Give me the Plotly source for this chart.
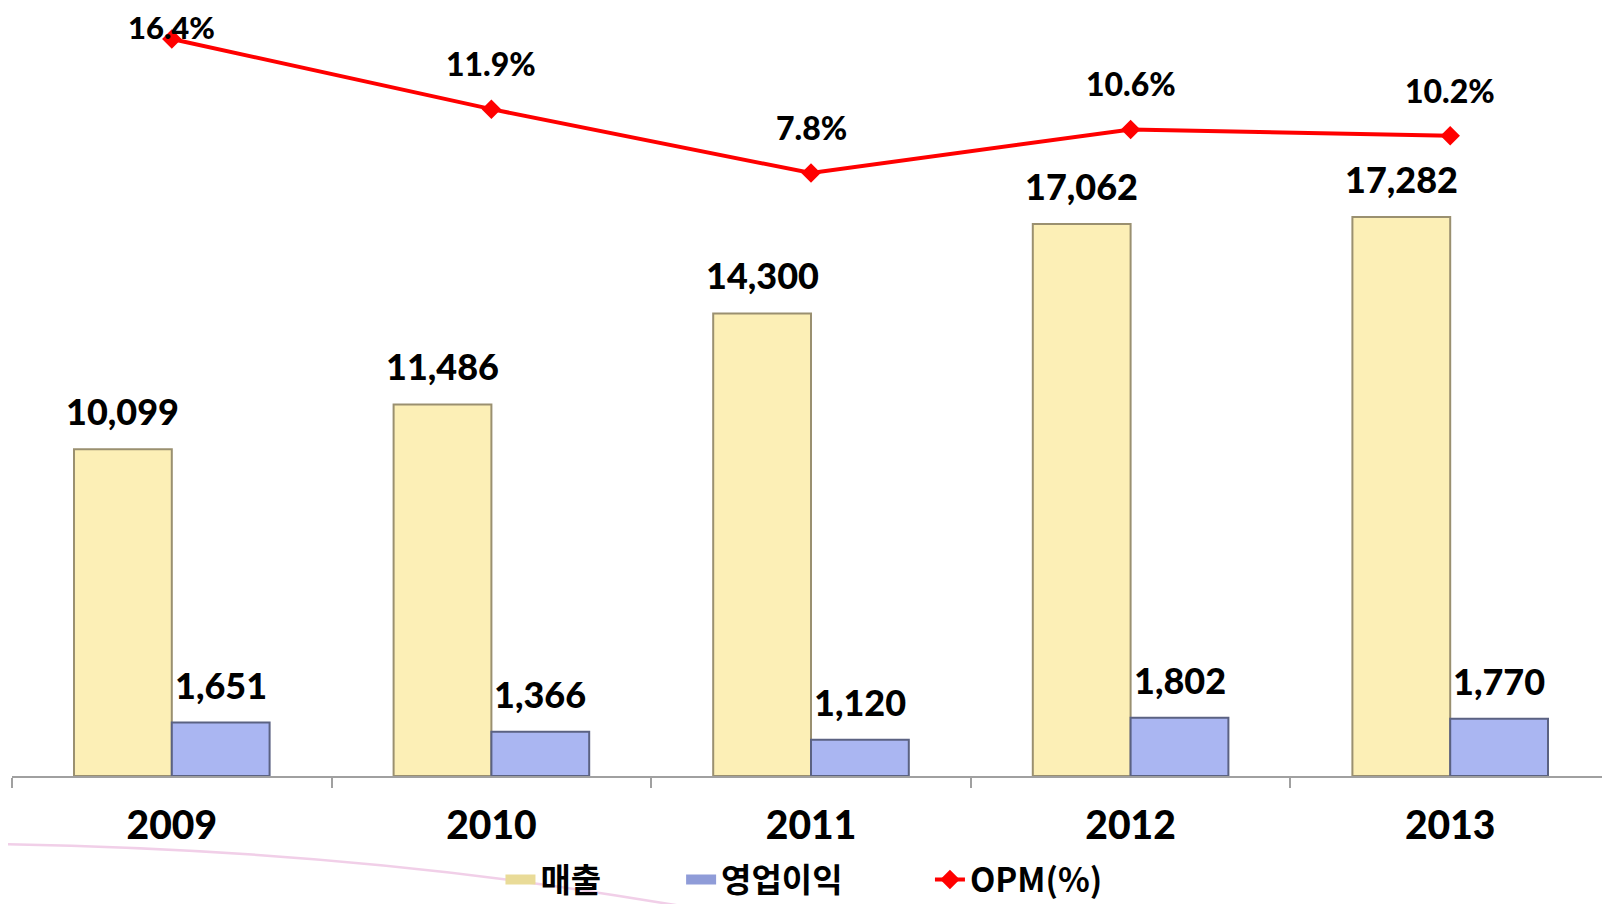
import plotly.graph_objects as go

years = ["2009", "2010", "2011", "2012", "2013"]
sales = [10099, 11486, 14300, 17062, 17282]
op_profit = [1651, 1366, 1120, 1802, 1770]
opm = [16.4, 11.9, 7.8, 10.6, 10.2]
opm_labels = ["16.4%", "11.9%", "7.8%", "10.6%", "10.2%"]
legend_names = ["매출", "영업이익", "OPM(%)"]

FONT_NUM = "Lato, 'Noto Sans CJK KR', sans-serif"
FONT_KR = "'Noto Sans CJK KR', Lato, sans-serif"
BW = 0.306
YELLOW = "#FCEFB6"
BLUE = "#AAB6F2"

fig = go.Figure()
fig.add_trace(go.Bar(
    x=years, y=sales, name=legend_names[0], showlegend=False,
    width=BW, offset=-BW,
    marker=dict(color=YELLOW, line=dict(color="#9A9070", width=2)),
))
fig.add_trace(go.Bar(
    x=years, y=op_profit, name=legend_names[1], showlegend=False,
    width=BW, offset=0,
    marker=dict(color=BLUE, line=dict(color="#5B6282", width=2)),
))
fig.add_trace(go.Scatter(
    x=years, y=opm, name=legend_names[2], yaxis="y2",
    mode="lines+markers", showlegend=False,
    line=dict(color="#FF0000", width=4),
    marker=dict(symbol="diamond", size=15, color="#FF0000"),
))

# legend entries (swatches styled like the reference's wide bevelled boxes)
fig.add_trace(go.Scatter(
    x=[years[0]], y=[None], mode="lines", name=legend_names[0] + "&nbsp;" * 10,
    line=dict(color="#E9DB98", width=15), hoverinfo="skip",
))
fig.add_trace(go.Scatter(
    x=[years[0]], y=[None], mode="lines", name=legend_names[1] + "&nbsp;" * 11,
    line=dict(color="#8F9CD8", width=15), hoverinfo="skip",
))
fig.add_trace(go.Scatter(
    x=[years[0]], y=[None], mode="lines+markers", name=legend_names[2],
    line=dict(color="#FF0000", width=4),
    marker=dict(symbol="diamond", size=15, color="#FF0000"), hoverinfo="skip",
))

label_font = dict(family=FONT_NUM, size=36, color="black", weight=900)
opm_shift = [-9, 24, 24, 24, 24]
opm_size = [31, 32, 32, 32, 32]
annotations = []
for i in range(len(years)):
    annotations.append(dict(
        x=i - BW / 2, y=sales[i], xref="x", yref="y",
        text=f"{sales[i]:,}", showarrow=False, yanchor="bottom", yshift=14,
        font=label_font,
    ))
    annotations.append(dict(
        x=i + BW / 2, y=op_profit[i], xref="x", yref="y",
        text=f"{op_profit[i]:,}", showarrow=False, yanchor="bottom", yshift=14,
        font=label_font,
    ))
    annotations.append(dict(
        x=i, y=opm[i], xref="x", yref="y2",
        text=opm_labels[i], showarrow=False, yanchor="bottom", yshift=opm_shift[i],
        font=dict(family=FONT_NUM, size=opm_size[i], color="black", weight=900),
    ))

fig.update_layout(
    width=1610, height=904,
    margin=dict(l=4, r=8, t=12, b=128),
    paper_bgcolor="white", plot_bgcolor="white",
    barmode="overlay",
    showlegend=True,
    legend=dict(
        orientation="h", x=0.4956, xanchor="center", y=-0.137, yanchor="middle",
        font=dict(family=FONT_KR, size=33, color="black", weight="bold"),
        traceorder="normal", bgcolor="rgba(0,0,0,0)",
    ),
    xaxis=dict(
        type="category", range=[-0.5, 4.5],
        showline=True, linecolor="#A0A0A0", linewidth=2,
        ticks="outside", tickson="boundaries", ticklen=10, tickcolor="#A0A0A0", tickwidth=2,
        ticklabelstandoff=14,
        tickfont=dict(family=FONT_NUM, size=39, color="black", weight=900),
        showgrid=False, zeroline=False,
    ),
    yaxis=dict(range=[0, 23372], visible=False, showgrid=False, zeroline=False),
    yaxis2=dict(range=[-30.88, 17.62], overlaying="y", visible=False,
                showgrid=False, zeroline=False),
    annotations=annotations,
    shapes=[dict(
        type="path", xref="paper", yref="paper",
        path="M -0.01,-0.09 Q 0.2,-0.097 0.378,-0.158 T 0.45,-0.182",
        line=dict(color="#E6A8D6", width=2.5), opacity=0.55, layer="below",
    )],
)

fig.write_html("out.html")
